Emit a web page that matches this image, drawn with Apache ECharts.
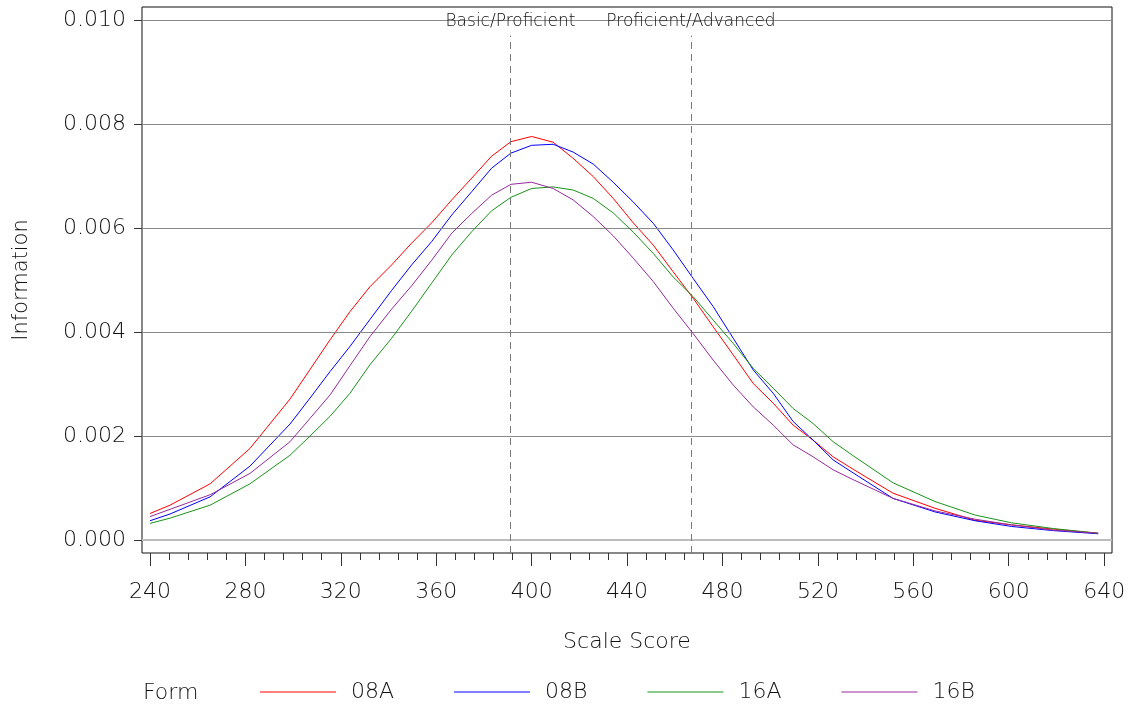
<!DOCTYPE html>
<html>
<head>
<meta charset="utf-8">
<script src="https://cdn.jsdelivr.net/npm/echarts@6/dist/echarts.min.js"></script>
<style>
  html, body { margin: 0; padding: 0; background: #fff; }
  #chart { width: 1135px; height: 709px; }
</style>
</head>
<body>
<div id="chart"></div>
<script>
// scale score at each computed point
const scores = [240, 248.4, 265.2, 281.9, 298.7, 307.1, 315.5, 323.8, 332.2, 341.3, 349.7, 358.1, 366.5, 374.9, 383.2, 391.3, 400, 409, 417.4, 425.8, 434.2, 442.6, 451, 459.3, 467.7, 476.1, 484.5, 492.9, 501.3, 509.6, 518, 526.4, 534.8, 551.5, 569.1, 585.9, 601.2, 618.7, 637.5];

// information, in thousandths
const form08A = [0.51, 0.67, 1.08, 1.76, 2.71, 3.28, 3.85, 4.39, 4.87, 5.29, 5.71, 6.10, 6.54, 6.96, 7.38, 7.66, 7.76, 7.65, 7.34, 6.99, 6.57, 6.10, 5.67, 5.16, 4.65, 4.10, 3.56, 3.01, 2.63, 2.21, 1.92, 1.60, 1.36, 0.90, 0.61, 0.38, 0.29, 0.21, 0.13];
const form08B = [0.37, 0.50, 0.83, 1.42, 2.23, 2.73, 3.24, 3.72, 4.24, 4.80, 5.29, 5.74, 6.25, 6.70, 7.15, 7.44, 7.59, 7.61, 7.46, 7.23, 6.88, 6.50, 6.09, 5.58, 5.03, 4.49, 3.88, 3.27, 2.82, 2.28, 1.92, 1.54, 1.29, 0.80, 0.54, 0.37, 0.26, 0.18, 0.12];
const form16A = [0.32, 0.42, 0.67, 1.08, 1.63, 2.00, 2.38, 2.82, 3.37, 3.88, 4.40, 4.94, 5.48, 5.93, 6.33, 6.59, 6.76, 6.79, 6.73, 6.57, 6.29, 5.92, 5.51, 5.06, 4.68, 4.23, 3.78, 3.30, 2.92, 2.53, 2.24, 1.89, 1.62, 1.10, 0.74, 0.48, 0.33, 0.22, 0.13];
const form16B = [0.45, 0.59, 0.87, 1.28, 1.89, 2.34, 2.79, 3.35, 3.91, 4.44, 4.89, 5.38, 5.90, 6.28, 6.63, 6.84, 6.88, 6.76, 6.54, 6.22, 5.85, 5.42, 4.97, 4.46, 3.97, 3.46, 2.98, 2.56, 2.21, 1.83, 1.60, 1.35, 1.16, 0.80, 0.56, 0.40, 0.29, 0.19, 0.13];

const formNames = ['08A', '08B', '16A', '16B'];
const formColors = ['#ff0000', '#0000ff', '#1a931a', '#952a9c'];

const xTickLabels = [240, 280, 320, 360, 400, 440, 480, 520, 560, 600, 640];
const yTickLabels = [0, 2, 4, 6, 8, 10];

// performance level cut scores
const cutNames = ['Basic/Proficient', 'Proficient/Advanced'];
const cutScores = [391.1, 466.8];

const FONT = "'DejaVu Sans', sans-serif";
const WEIGHT = 200;
const TXT = '#111';

const minorTicks = [];
for (let v = 240; v <= 640; v += 8) minorTicks.push(v);

const chart = echarts.init(document.getElementById('chart'));

const toPairs = (ys) => scores.map((s, i) => [s, ys[i]]);
const allForms = [form08A, form08B, form16A, form16B];

const gridLines = yTickLabels.map(v => ({
    yAxis: v,
    lineStyle: v === 0 ? { color: '#bdbdbd', width: 2, type: 'solid' } : { color: '#8a8a8a', width: 1, type: 'solid' },
    label: { show: false }
}));
const cutLines = cutScores.map((c, i) => [
    { coord: [c, -0.25] },
    {
        coord: [c, 9.7],
        label: {
            show: true,
            position: 'end',
            formatter: cutNames[i],
            distance: 6,
            color: TXT,
            fontFamily: FONT,
            fontWeight: WEIGHT,
            fontSize: 17
        }
    }
]);

const series = formNames.map((name, i) => ({
    name: name,
    type: 'line',
    data: toPairs(allForms[i]),
    symbol: 'none',
    smooth: false,
    lineStyle: { color: formColors[i], width: 1 },
    itemStyle: { color: formColors[i] },
    z: 3 + i
}));
series.push({
    name: 'refs',
    type: 'line',
    data: [],
    silent: true,
    z: 1,
    markLine: {
        silent: true,
        symbol: 'none',
        animation: false,
        lineStyle: { color: '#7a7a7a', type: [7, 5], width: 1 },
        data: gridLines.concat(cutLines)
    }
});

chart.setOption({
    animation: false,
    backgroundColor: '#fff',
    grid: {
        left: 142,
        right: 23,
        top: 7,
        bottom: 156,
        show: true,
        borderColor: '#111',
        borderWidth: 1,
        backgroundColor: 'transparent'
    },
    legend: {
        data: formNames,
        left: 260,
        top: 681,
        padding: 0,
        icon: 'rect',
        itemWidth: 76,
        itemHeight: 1,
        itemGap: 60,
        textStyle: { color: TXT, fontFamily: FONT, fontWeight: WEIGHT, fontSize: 22, padding: [3, 0, 0, 10] }
    },
    graphic: [{
        type: 'text',
        left: 143,
        top: 682,
        style: { text: 'Form', fill: TXT, font: "200 22px 'DejaVu Sans', sans-serif" }
    }],
    xAxis: [{
        type: 'value',
        min: 236.65,
        max: 643.3,
        name: 'Scale Score',
        nameLocation: 'middle',
        nameGap: 78,
        nameTextStyle: { color: TXT, fontFamily: FONT, fontWeight: WEIGHT, fontSize: 22 },
        axisLine: { show: false, onZero: false },
        splitLine: { show: false },
        axisTick: { show: true, length: 13, customValues: xTickLabels, lineStyle: { color: '#333' } },
        axisLabel: { customValues: xTickLabels, margin: 28, color: TXT, fontFamily: FONT, fontWeight: WEIGHT, fontSize: 22 }
    }, {
        type: 'value',
        min: 236.65,
        max: 643.3,
        position: 'bottom',
        axisLine: { show: false, onZero: false },
        splitLine: { show: false },
        axisTick: { show: true, length: 7, customValues: minorTicks, lineStyle: { color: '#333' } },
        axisLabel: { show: false }
    }],
    yAxis: {
        type: 'value',
        min: -0.25,
        max: 10.25,
        name: 'Information',
        nameLocation: 'middle',
        nameGap: 110,
        nameTextStyle: { color: TXT, fontFamily: FONT, fontWeight: WEIGHT, fontSize: 21 },
        axisLine: { show: false, onZero: false },
        splitLine: { show: false },
        axisTick: { show: true, length: 8, customValues: yTickLabels, lineStyle: { color: '#333' } },
        axisLabel: {
            customValues: yTickLabels,
            margin: 16,
            color: TXT,
            fontFamily: FONT,
            fontWeight: WEIGHT,
            fontSize: 22,
            formatter: v => (v / 1000).toFixed(3)
        }
    },
    series: series
});
</script>
</body>
</html>
